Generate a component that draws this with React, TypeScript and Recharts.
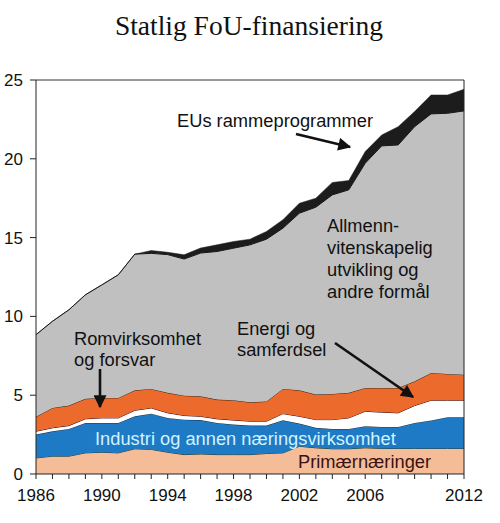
import React from "react";
import { AreaChart, Area, XAxis, YAxis, ReferenceLine } from "recharts";

// Statlig FoU-finansiering, mrd. kr, 1986-2012
const years = [
  1986, 1987, 1988, 1989, 1990, 1991, 1992, 1993, 1994, 1995, 1996, 1997, 1998, 1999,
  2000, 2001, 2002, 2003, 2004, 2005, 2006, 2007, 2008, 2009, 2010, 2011, 2012,
];
const primaer = [
  1.02, 1.13, 1.13, 1.34, 1.38, 1.34, 1.6, 1.56, 1.38, 1.23, 1.27, 1.23, 1.23, 1.23,
  1.3, 1.34, 1.76, 1.66, 1.6, 1.6, 1.66, 1.62, 1.62, 1.62, 1.62, 1.62, 1.62,
];
const industri = [
  1.48, 1.58, 1.73, 1.9, 1.86, 1.9, 2.06, 2.27, 2.18, 2.22, 2.15, 2.01, 1.91, 1.84,
  1.77, 2.07, 1.44, 1.27, 1.26, 1.26, 1.37, 1.37, 1.37, 1.62, 1.78, 1.98, 1.98,
];
const energi = [
  0.21, 0.22, 0.21, 0.26, 0.32, 0.32, 0.38, 0.36, 0.32, 0.26, 0.24, 0.26, 0.28, 0.28,
  0.28, 0.42, 0.46, 0.52, 0.59, 0.7, 0.95, 0.93, 0.89, 1.1, 1.28, 1.08, 1.08,
];
const romvirksomhet = [
  0.92, 1.26, 1.27, 1.27, 1.27, 1.27, 1.27, 1.21, 1.27, 1.26, 1.27, 1.22, 1.26, 1.2,
  1.25, 1.57, 1.65, 1.59, 1.63, 1.59, 1.48, 1.54, 1.58, 1.54, 1.73, 1.67, 1.62,
];
const allmenn = [
  5.21, 5.5, 6.08, 6.6, 7.17, 7.81, 8.64, 8.6, 8.77, 8.67, 9.09, 9.4, 9.65, 9.99,
  10.3, 10.2, 11.24, 11.89, 12.63, 12.88, 14.26, 15.36, 15.42, 16.16, 16.44, 16.54, 16.74,
];
const eu = [
  0, 0, 0, 0, 0, 0, 0, 0.18, 0.15, 0.27, 0.32, 0.42, 0.42, 0.36,
  0.49, 0.53, 0.63, 0.57, 0.79, 0.59, 0.74, 0.69, 1.16, 0.96, 1.2, 1.16, 1.37,
];
const yTicks = [0, 5, 10, 15, 20, 25];
const labelledYears = [1986, 1990, 1994, 1998, 2002, 2006, 2012];

const data = years.map((year, i) => ({
  year,
  primaer: primaer[i],
  industri: industri[i],
  energi: energi[i],
  romvirksomhet: romvirksomhet[i],
  allmenn: allmenn[i],
  eu: eu[i],
}));

const sans = "'Liberation Sans', Arial, sans-serif";
const tickStyle = { fontSize: 17, fill: "#111", fontFamily: sans };

export default function App() {
  return (
    <div style={{ position: "absolute", left: 0, top: 0, width: 500, height: 523, background: "#fff" }}>
      <AreaChart width={500} height={523} data={data} margin={{ top: 80, right: 0, bottom: 18, left: 0 }}>
        <XAxis
          dataKey="year"
          type="number"
          domain={[1986, 2012]}
          ticks={years}
          interval={0}
          height={31}
          tickSize={5}
          tickMargin={10}
          stroke="#222"
          tick={tickStyle}
          tickFormatter={(v: number) => (labelledYears.includes(v) ? String(v) : "")}
        />
        <YAxis
          yAxisId="left"
          domain={[0, 25]}
          ticks={yTicks}
          width={36}
          tickSize={6}
          tickMargin={7}
          stroke="#222"
          tick={tickStyle}
        />
        <YAxis
          yAxisId="right"
          orientation="right"
          domain={[0, 25]}
          ticks={yTicks}
          width={36}
          tickSize={6}
          tickMargin={9}
          stroke="#222"
          tick={tickStyle}
        />
        <Area yAxisId="left" type="linear" dataKey="primaer" stackId="a" fill="#F5BC98" fillOpacity={1} stroke="#2c3a22" strokeWidth={1} isAnimationActive={false} />
        <Area yAxisId="left" type="linear" dataKey="industri" stackId="a" fill="#1F7AC6" fillOpacity={1} stroke="#1d2a3a" strokeWidth={1} isAnimationActive={false} />
        <Area yAxisId="left" type="linear" dataKey="energi" stackId="a" fill="#FFFFFF" fillOpacity={1} stroke="#3a0a14" strokeWidth={1} isAnimationActive={false} />
        <Area yAxisId="left" type="linear" dataKey="romvirksomhet" stackId="a" fill="#EC6A2C" fillOpacity={1} stroke="#3a2410" strokeWidth={1} isAnimationActive={false} />
        <Area yAxisId="left" type="linear" dataKey="allmenn" stackId="a" fill="#C0C0C0" fillOpacity={1} stroke="#111" strokeWidth={1} isAnimationActive={false} />
        <Area yAxisId="left" type="linear" dataKey="eu" stackId="a" fill="#1C1C1C" fillOpacity={1} stroke="#1C1C1C" strokeWidth={0.5} isAnimationActive={false} />
        <ReferenceLine yAxisId="left" y={25} stroke="#333" strokeWidth={1} />
      </AreaChart>

      <svg width={500} height={523} style={{ position: "absolute", left: 0, top: 0, pointerEvents: "none" }}>
        <defs>
          <marker id="head" viewBox="0 0 10 10" refX="9" refY="5" markerWidth="5.5" markerHeight="5" orient="auto" markerUnits="strokeWidth">
            <path d="M0,0 L10,5 L0,10 z" fill="#111" />
          </marker>
        </defs>
        <text x={249} y={35} textAnchor="middle" fontFamily="'Liberation Serif', 'Times New Roman', serif" fontSize={27.5} fill="#111">
          Statlig FoU-finansiering
        </text>

        <g fontFamily={sans} fontSize={18.3} fill="#111">
          <text x={177} y={127}>EUs rammeprogrammer</text>
          <text x={327} y={232}>Allmenn-</text>
          <text x={327} y={254}>vitenskapelig</text>
          <text x={327} y={276}>utvikling og</text>
          <text x={327} y={298}>andre formål</text>
          <text x={237} y={335}>Energi og</text>
          <text x={237} y={356}>samferdsel</text>
          <text x={74} y={345}>Romvirksomhet</text>
          <text x={74} y={366}>og forsvar</text>
          <text x={95} y={445} fill="#CFF3FF">Industri og annen næringsvirksomhet</text>
          <text x={298} y={468} fill="#3a1212">Primærnæringer</text>
        </g>

        <line x1={296} y1={134} x2={350} y2={147} stroke="#111" strokeWidth={2.6} markerEnd="url(#head)" />
        <line x1={335} y1={343} x2={413} y2={397} stroke="#111" strokeWidth={2.6} markerEnd="url(#head)" />
        <line x1={100} y1={369} x2={100} y2={407} stroke="#111" strokeWidth={2.6} markerEnd="url(#head)" />
      </svg>
    </div>
  );
}
